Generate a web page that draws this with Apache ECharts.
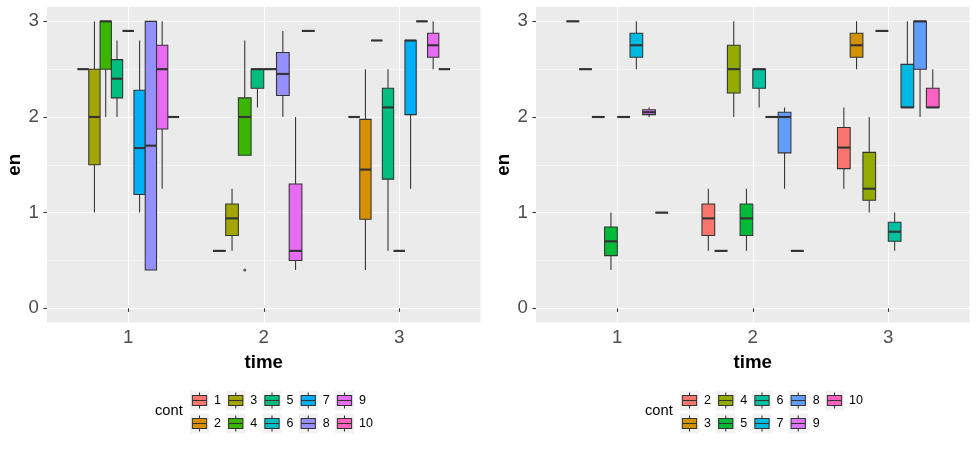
<!DOCTYPE html>
<html><head><meta charset="utf-8">
<script src="https://cdn.jsdelivr.net/npm/echarts@6/dist/echarts.min.js"></script>
<style>html,body{margin:0;padding:0;background:#fff}#c{width:977px;height:450px}</style>
</head><body><div id="c"></div>
<script>
// ---------- data ----------
const times = [1, 2, 3];
const timeLabels = ['1', '2', '3'];
const yTicks = [0, 1, 2, 3];
const yMinor = [0.5, 1.5, 2.5];

const leftConts = ['1', '2', '3', '4', '5', '6', '7', '8', '9', '10'];
const leftColors = ['#F8766D', '#D89000', '#A3A500', '#39B600', '#00BF7D', '#00BFC4', '#00B0F6', '#9590FF', '#E76BF3', '#FF62BC'];
const rightConts = ['2', '3', '4', '5', '6', '7', '8', '9', '10'];
const rightColors = ['#F8766D', '#D39200', '#93AA00', '#00BA38', '#00C19F', '#00B9E3', '#619CFF', '#DB72FB', '#FF61C3'];

// rows: [cont, min, q1, median, q3, max]
const leftTime1 = [
  ['1', 2.5, 2.5, 2.5, 2.5, 2.5],
  ['3', 1.0, 1.5, 2.0, 2.5, 3.0],
  ['4', 2.0, 2.5, 3.0, 3.0, 3.0],
  ['5', 2.0, 2.2, 2.4, 2.6, 2.8],
  ['6', 2.9, 2.9, 2.9, 2.9, 2.9],
  ['7', 1.0, 1.19, 1.675, 2.28, 2.8],
  ['8', 0.4, 0.4, 1.7, 3.0, 3.0],
  ['9', 1.25, 1.875, 2.5, 2.75, 3.0],
  ['10', 2.0, 2.0, 2.0, 2.0, 2.0]
];
const leftTime2 = [
  ['1', 0.6, 0.6, 0.6, 0.6, 0.6],
  ['3', 0.6, 0.76, 0.94, 1.09, 1.25],
  ['4', 1.6, 1.6, 2.0, 2.2, 2.8],
  ['5', 2.1, 2.3, 2.5, 2.5, 2.5],
  ['6', 2.5, 2.5, 2.5, 2.5, 2.5],
  ['8', 2.0, 2.225, 2.45, 2.675, 2.9],
  ['9', 0.4, 0.5, 0.6, 1.3, 2.0],
  ['10', 2.9, 2.9, 2.9, 2.9, 2.9]
];
const leftTime3 = [
  ['1', 2.0, 2.0, 2.0, 2.0, 2.0],
  ['2', 0.4, 0.93, 1.45, 1.975, 2.5],
  ['3', 2.8, 2.8, 2.8, 2.8, 2.8],
  ['5', 0.6, 1.35, 2.1, 2.3, 2.5],
  ['6', 0.6, 0.6, 0.6, 0.6, 0.6],
  ['7', 1.25, 2.025, 2.8, 2.8, 2.8],
  ['8', 3.0, 3.0, 3.0, 3.0, 3.0],
  ['9', 2.5, 2.625, 2.75, 2.875, 3.0],
  ['10', 2.5, 2.5, 2.5, 2.5, 2.5]
];
// outliers: [time, cont, value]
const leftOutliers = [[2, '4', 0.4]];

const rightTime1 = [
  ['2', 3.0, 3.0, 3.0, 3.0, 3.0],
  ['3', 2.5, 2.5, 2.5, 2.5, 2.5],
  ['4', 2.0, 2.0, 2.0, 2.0, 2.0],
  ['5', 0.4, 0.55, 0.7, 0.85, 1.0],
  ['6', 2.0, 2.0, 2.0, 2.0, 2.0],
  ['7', 2.5, 2.625, 2.75, 2.875, 3.0],
  ['9', 2.0, 2.025, 2.05, 2.075, 2.1],
  ['10', 1.0, 1.0, 1.0, 1.0, 1.0]
];
const rightTime2 = [
  ['2', 0.6, 0.76, 0.94, 1.09, 1.25],
  ['3', 0.6, 0.6, 0.6, 0.6, 0.6],
  ['4', 2.0, 2.25, 2.5, 2.75, 3.0],
  ['5', 0.6, 0.76, 0.94, 1.09, 1.25],
  ['6', 2.1, 2.3, 2.5, 2.5, 2.5],
  ['7', 2.0, 2.0, 2.0, 2.0, 2.0],
  ['8', 1.25, 1.625, 2.0, 2.05, 2.1],
  ['9', 0.6, 0.6, 0.6, 0.6, 0.6]
];
const rightTime3 = [
  ['2', 1.25, 1.46, 1.68, 1.89, 2.1],
  ['3', 2.5, 2.625, 2.75, 2.875, 3.0],
  ['4', 1.0, 1.13, 1.25, 1.63, 2.0],
  ['5', 2.9, 2.9, 2.9, 2.9, 2.9],
  ['6', 0.6, 0.7, 0.8, 0.9, 1.0],
  ['7', 2.1, 2.1, 2.1, 2.55, 3.0],
  ['8', 2.0, 2.5, 3.0, 3.0, 3.0],
  ['10', 2.1, 2.1, 2.1, 2.3, 2.5]
];
const rightOutliers = [];

// ---------- layout helpers (dodge like ggplot) ----------
const DODGE = 0.75;
const INK = '#333333';
const LW = 1.07;

function buildBoxData(groups, conts) {
  const out = [];
  groups.forEach((rows, ti) => {
    const n = rows.length, w = DODGE / n;
    rows.forEach((r, i) => {
      const xc = times[ti] - DODGE / 2 + (i + 0.5) * w;
      out.push([xc, w, r[1], r[2], r[3], r[4], r[5], conts.indexOf(r[0])]);
    });
  });
  return out;
}
function buildOutliers(groups, outliers) {
  return outliers.map(o => {
    const ti = times.indexOf(o[0]);
    const rows = groups[ti];
    const n = rows.length, w = DODGE / n;
    const i = rows.findIndex(r => r[0] === o[1]);
    return [times[ti] - DODGE / 2 + (i + 0.5) * w, o[2]];
  });
}
function makeRender(colors) {
  return function (params, api) {
    const x = api.value(0), w = api.value(1);
    const vmin = api.value(2), q1 = api.value(3), med = api.value(4), q3 = api.value(5), vmax = api.value(6);
    const col = colors[api.value(7)];
    const tl = api.coord([x - w / 2, q3]);
    const br = api.coord([x + w / 2, q1]);
    const cx = api.coord([x, q3])[0];
    const yMin = api.coord([x, vmin])[1], yMax = api.coord([x, vmax])[1];
    const yMed = api.coord([x, med])[1];
    const ls = { stroke: INK, lineWidth: LW };
    const ch = [];
    if (yMax < tl[1]) ch.push({ type: 'line', shape: { x1: cx, y1: yMax, x2: cx, y2: tl[1] }, style: ls });
    if (yMin > br[1]) ch.push({ type: 'line', shape: { x1: cx, y1: br[1], x2: cx, y2: yMin }, style: ls });
    ch.push({ type: 'rect', shape: { x: tl[0], y: tl[1], width: br[0] - tl[0], height: br[1] - tl[1] },
      style: { fill: col, stroke: INK, lineWidth: LW } });
    ch.push({ type: 'line', shape: { x1: tl[0], y1: yMed, x2: br[0], y2: yMed }, style: { stroke: INK, lineWidth: 2.13 } });
    return { type: 'group', children: ch };
  };
}

const leftGroups = [leftTime1, leftTime2, leftTime3];
const rightGroups = [rightTime1, rightTime2, rightTime3];

const FONT = 'Liberation Sans, Arial, sans-serif';
const gridBase = { top: 7, height: 315.6, width: 433.6, show: true, backgroundColor: '#EBEBEB', borderWidth: 0, containLabel: false, outerBoundsMode: 'none' };

function xAx(gi) {
  return {
    type: 'value', gridIndex: gi, min: 0.4, max: 3.6, position: 'bottom',
    axisLine: { show: false },
    axisTick: { show: true, customValues: times, length: 3.6, lineStyle: { color: INK, width: LW } },
    axisLabel: { customValues: times, formatter: v => timeLabels[times.indexOf(v)], color: '#4D4D4D', fontSize: 18.7, fontFamily: FONT, margin: 6 },
    splitLine: { show: true, lineStyle: { color: '#FFFFFF', width: LW } },
    name: 'time', nameLocation: 'middle', nameGap: 31,
    nameTextStyle: { fontWeight: 'bold', fontSize: 18.7, color: '#000', fontFamily: FONT }
  };
}
function yAx(gi) {
  return {
    type: 'value', gridIndex: gi, min: -0.15, max: 3.15, position: 'left', offset: 0,
    axisLine: { show: false },
    axisTick: { show: true, customValues: yTicks, length: 3.6, lineStyle: { color: INK, width: LW } },
    axisLabel: { customValues: yTicks, color: '#4D4D4D', fontSize: 18.7, fontFamily: FONT, margin: 8 },
    splitLine: { show: true, lineStyle: { color: '#FFFFFF', width: LW } },
    name: 'en', nameLocation: 'middle', nameRotate: 90, nameGap: 20,
    nameTextStyle: { fontWeight: 'bold', fontSize: 18.7, color: '#000', fontFamily: FONT }
  };
}
function yMinorAx(gi) {
  return {
    type: 'value', gridIndex: gi, min: -0.15, max: 3.15, position: 'left', offset: 0,
    axisLine: { show: false },
    axisTick: { show: false, customValues: yMinor },
    axisLabel: { show: false, customValues: yMinor },
    splitLine: { show: true, lineStyle: { color: '#FFFFFF', width: 0.53 } }
  };
}

// ---------- legend (drawn as graphics from the cont arrays) ----------
function legendGraphics(conts, colors, titleX, keyX0) {
  const els = [];
  const KW = 19, KH = 20, COL = 36.25, ROWS = [390.5, 413.5];
  els.push({ type: 'text', left: titleX, top: 403, style: { text: 'cont', fontSize: 14.7, fontFamily: FONT, fill: '#000' } });
  conts.forEach((c, i) => {
    const col = Math.floor(i / 2), row = i % 2;
    const x = keyX0 + col * COL, y = ROWS[row];
    els.push({
      type: 'group', x: x, y: y, children: [
        { type: 'rect', shape: { x: 0, y: 0, width: KW, height: KH }, style: { fill: '#F2F2F2' } },
        { type: 'line', shape: { x1: KW / 2, y1: KH * 0.1, x2: KW / 2, y2: KH * 0.25 }, style: { stroke: INK, lineWidth: LW } },
        { type: 'line', shape: { x1: KW / 2, y1: KH * 0.75, x2: KW / 2, y2: KH * 0.9 }, style: { stroke: INK, lineWidth: LW } },
        { type: 'rect', shape: { x: KW * 0.125, y: KH * 0.25, width: KW * 0.75, height: KH * 0.5 }, style: { fill: colors[i], stroke: INK, lineWidth: LW } },
        { type: 'line', shape: { x1: KW * 0.125, y1: KH * 0.5, x2: KW * 0.875, y2: KH * 0.5 }, style: { stroke: INK, lineWidth: LW } },
        { type: 'text', x: KW + 5, y: KH / 2, style: { text: c, fontSize: 12.5, fontFamily: FONT, fill: '#000', verticalAlign: 'middle', align: 'left' } }
      ]
    });
  });
  return els;
}

const chart = echarts.init(document.getElementById('c'), null, { renderer: 'canvas' });
chart.setOption({
  animation: false,
  backgroundColor: '#FFFFFF',
  grid: [Object.assign({ left: 47 }, gridBase), Object.assign({ left: 536 }, gridBase)],
  xAxis: [xAx(0), xAx(1)],
  yAxis: [yMinorAx(0), yAx(0), yMinorAx(1), yAx(1)],
  series: [
    { type: 'custom', xAxisIndex: 0, yAxisIndex: 1, renderItem: makeRender(leftColors), data: buildBoxData(leftGroups, leftConts), clip: false, z: 3 },
    { type: 'scatter', xAxisIndex: 0, yAxisIndex: 1, data: buildOutliers(leftGroups, leftOutliers), symbol: 'circle', symbolSize: 3, itemStyle: { color: INK }, z: 4 },
    { type: 'custom', xAxisIndex: 1, yAxisIndex: 3, renderItem: makeRender(rightColors), data: buildBoxData(rightGroups, rightConts), clip: false, z: 3 },
    { type: 'scatter', xAxisIndex: 1, yAxisIndex: 3, data: buildOutliers(rightGroups, rightOutliers), symbol: 'circle', symbolSize: 3, itemStyle: { color: INK }, z: 4 }
  ],
  graphic: legendGraphics(leftConts, leftColors, 155, 190).concat(legendGraphics(rightConts, rightColors, 645, 680))
});
</script></body></html>
